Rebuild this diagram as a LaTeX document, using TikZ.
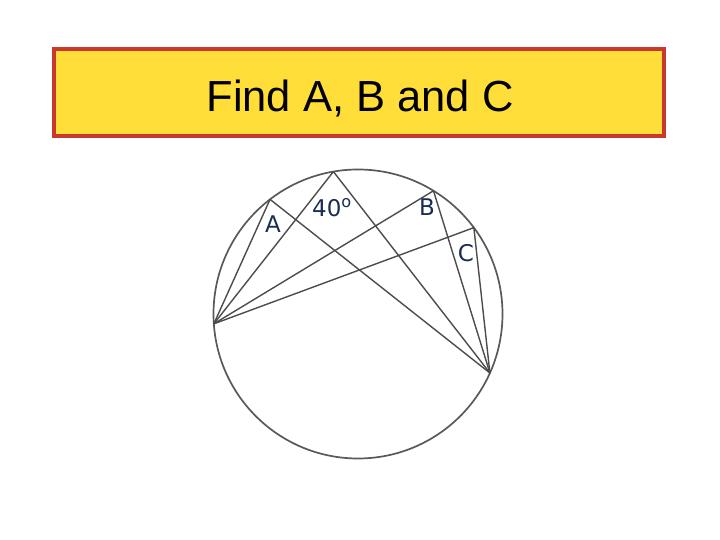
\documentclass[tikz,border=0pt]{standalone}
\usepackage{fontspec}
\setmainfont{Liberation Sans}
\newfontfamily\labelfont{DejaVu Sans}
\usepackage{tikz}
\usetikzlibrary{
  positioning,
  calc
}
\definecolor{titlered}{RGB}{200,56,46}
\definecolor{titleyellow}{RGB}{255,222,58}
\definecolor{labelblue}{RGB}{27,45,80}
\tikzstyle{chord}=[draw=black!70, line width=1.4pt]
\tikzstyle{rim}=[draw=black!65, line width=1.7pt]
\tikzstyle{titlebox}=[draw=titlered, fill=titleyellow, line width=4pt, inner sep=0pt]
\tikzstyle{anglelabel}=[text=labelblue, inner sep=0pt, font=\labelfont\fontsize{23}{23}\selectfont]

\begin{document}
\begin{tikzpicture}[x=1pt, y=1pt]
    \def\r{144.5} % 円の半径
    \useasboundingbox (0,0) rectangle (720,540);

    % タイトル
    \node[titlebox, minimum width=610pt, minimum height=87pt] (title) at (359,447.5) {};
    \node[anchor=base, font=\fontsize{43.5}{43.5}\selectfont] (titletext) at (360,428) {Find A, B and C};

    % 円の中心O
    \coordinate (O) at (358,226);

    % 円周上の点
    \coordinate (P) at ($(O)+(183.9:\r)$);
    \coordinate (T) at ($(O)+(99.8:\r)$);
    \coordinate (A) at ($(O)+(127.5:\r)$);
    \coordinate (B) at ($(O)+(58.5:\r)$);
    \coordinate (C) at ($(O)+(36.7:\r)$);
    \coordinate (Q) at ($(O)+(-24.1:\r)$);

    % 円の描画
    \draw[rim] (O) circle (\r);

    % 左の点からの弦
    \draw[chord] (P) -- (A);
    \draw[chord] (P) -- (T);
    \draw[chord] (P) -- (B);
    \draw[chord] (P) -- (C);

    % 右下の点からの弦
    \draw[chord] (Q) -- (A);
    \draw[chord] (Q) -- (T);
    \draw[chord] (Q) -- (B);
    \draw[chord] (Q) -- (C);

    % 角の記号
    \node[anglelabel] (labA) at (273,316) {A};
    \node[anglelabel] (labT) at (332,332) {40\textsuperscript{o}};
    \node[anglelabel] (labB) at (427,332.5) {B};
    \node[anglelabel] (labC) at (466,287) {C};
  \end{tikzpicture}
\end{document}
